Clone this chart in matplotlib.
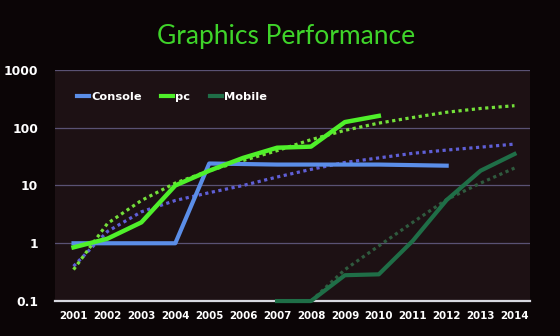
import matplotlib
matplotlib.use('Agg')
import matplotlib.pyplot as plt
from matplotlib.lines import Line2D

years = [2001, 2002, 2003, 2004, 2005, 2006, 2007, 2008, 2009, 2010, 2011, 2012, 2013, 2014]

console = [1.0, 1.0, 1.0, 1.0, 24, 23.5, 23, 23, 23, 23, 22.5, 22]
pc = [0.85, 1.2, 2.3, 10, 18, 30, 45, 47, 125, 160]
mobileYears = [2007, 2008, 2009, 2010, 2011, 2012, 2013, 2014]
mobile = [0.1, 0.1, 0.28, 0.29, 1.1, 5.6, 18, 35]

# dotted trend lines
consoleTrend = [0.4, 1.6, 3.5, 5.5, 7.5, 10, 14, 19, 25, 30, 36, 41, 46, 52]
pcTrend = [0.35, 2.2, 5.5, 11, 18, 27, 40, 62, 90, 120, 150, 185, 215, 240]
mobileTrendYears = [2008, 2009, 2010, 2011, 2012, 2013, 2014]
mobileTrend = [0.1, 0.35, 0.9, 2.3, 5.7, 11, 20]

yTicks = [0.1, 1, 10, 100, 1000]
yTickLabels = ['0.1', '1', '10', '100', '1000']

blue = '#5b8ee8'
blueDot = '#5f5fd6'
green = '#4ff02a'
greenDot = '#74e03a'
darkGreen = '#1f6e47'
darkGreenDot = '#2f5a3e'

fig = plt.figure(figsize=(5.6, 3.36), dpi=100)
fig.patch.set_facecolor('#0b0506')
ax = fig.add_axes([0.098, 0.104, 0.848, 0.688])
ax.set_facecolor('#1d1114')

ax.set_yscale('log')
ax.set_ylim(0.1, 1000)
ax.set_xlim(2000.45, 2014.45)

for v in [1, 10, 100, 1000]:
    ax.axhline(v, color='#5a5274', lw=0.9, zorder=1)

dotStyle = (0, (1, 1.1))
ax.plot(years, consoleTrend, color=blueDot, lw=2.3, linestyle=dotStyle, zorder=3)
ax.plot(years, pcTrend, color=greenDot, lw=2.3, linestyle=dotStyle, zorder=3)
ax.plot(mobileTrendYears, mobileTrend, color=darkGreenDot, lw=2.3, linestyle=dotStyle, zorder=3)

ax.plot(years[:len(console)], console, color=blue, lw=3.0, zorder=4)
ax.plot(years[:len(pc)], pc, color=green, lw=3.2, zorder=5)
ax.plot(mobileYears, mobile, color=darkGreen, lw=3.0, zorder=7, clip_on=False)

for s in ['top', 'right', 'left']:
    ax.spines[s].set_visible(False)
ax.spines['bottom'].set_color('#d8d8e0')
ax.spines['bottom'].set_linewidth(1.6)
ax.spines['bottom'].set_zorder(6)

ax.set_yticks(yTicks)
ax.set_yticklabels(yTickLabels)
ax.minorticks_off()
ax.set_xticks(years)
ax.set_xticklabels([str(y) for y in years])
ax.tick_params(axis='y', length=0, pad=12, labelsize=8.8, labelcolor='white')
ax.tick_params(axis='x', length=0, pad=7, labelsize=7.4, labelcolor='white')
for lab in ax.get_xticklabels() + ax.get_yticklabels():
    lab.set_fontweight('bold')

handles = [Line2D([], [], color=blue, lw=3),
           Line2D([], [], color=green, lw=3),
           Line2D([], [], color=darkGreen, lw=3)]
leg = ax.legend(handles, ['Console', 'pc', 'Mobile'], ncol=3, loc='center left',
                bbox_to_anchor=(0.046, 0.883), frameon=False, borderpad=0, borderaxespad=0,
                handlelength=1.1, handletextpad=0.15, columnspacing=1.7,
                prop={'size': 8.2, 'weight': 'bold'})
for t in leg.get_texts():
    t.set_color('white')

fig.text(0.51, 0.89, 'Graphics Performance', color='#3fd42a', fontsize=19,
         family=['Lato', 'DejaVu Sans'], ha='center', va='center')

fig.savefig('out.png', dpi=100, facecolor=fig.get_facecolor())
